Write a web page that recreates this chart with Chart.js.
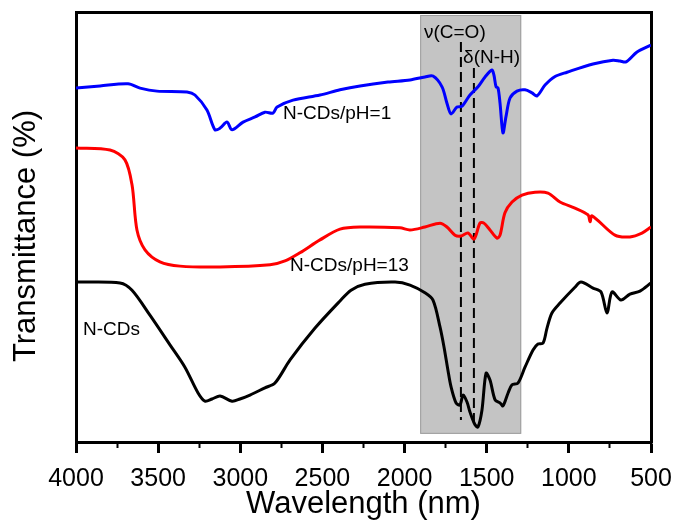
<!DOCTYPE html>
<html><head><meta charset="utf-8">
<script src="https://cdn.jsdelivr.net/npm/chart.js@4"></script>
<style>html,body{margin:0;padding:0;background:#fff}</style>
</head><body>
<canvas id="c" width="678" height="522" style="display:block;width:678px;height:522px"></canvas>
<script>
// ---- data ----
const blueX = [4000,3854,3683,3610,3507,3324,3276,3203,3154,3123,3081,3050,2983,2910,2850,2801,2776,2679,2515,2393,2271,2101,1967,1876,1827,1772,1742,1717,1681,1650,1602,1553,1510,1468,1456,1443,1431,1419,1401,1383,1358,1316,1267,1224,1194,1145,1084,1011,853,731,689,652,585,500];
const blueY = [82.3,82.8,83.3,82.3,81.6,81.4,80.7,77.2,72.6,73.0,74.4,72.6,74.4,75.6,76.7,76.5,77.9,79.5,80.7,81.9,82.8,83.7,84.2,84.9,85.1,82.6,78.8,76.3,77.9,78.1,80.7,82.6,84.9,86.5,85.3,82.6,82.3,78.8,71.9,75.6,80.0,81.6,81.9,81.2,80.5,83.0,85.0,86.0,87.9,88.8,88.6,88.4,90.7,92.3];
const redX = [4000,3793,3702,3659,3629,3580,3489,3367,3123,2819,2728,2637,2515,2393,2271,2028,1967,1876,1784,1742,1693,1657,1614,1577,1541,1517,1480,1437,1419,1389,1346,1285,1206,1127,1054,963,883,871,859,719,628,555,500];
const redY = [68.4,67.9,65.6,59.8,49.3,44.7,41.9,40.9,40.7,41.2,42.1,44.0,47.0,49.5,50.0,49.8,49.3,50.0,50.9,50.0,48.1,47.9,48.6,47.2,50.9,50.9,49.3,47.4,48.1,53.3,55.8,57.4,58.1,57.9,55.8,54.4,52.8,51.2,52.6,48.1,47.7,48.6,50.0];
const blackX = [4000,3732,3659,3550,3428,3337,3257,3215,3172,3123,3050,3002,2941,2850,2789,2697,2545,2393,2326,2241,2058,1967,1876,1827,1784,1760,1736,1717,1687,1663,1644,1620,1602,1571,1553,1529,1504,1480,1449,1419,1401,1370,1346,1310,1267,1218,1188,1157,1133,1103,1054,963,926,853,804,768,737,683,628,567,500];
const blackY = [37.2,37.0,35.3,29.5,22.6,17.4,11.4,9.5,10.0,10.7,9.5,10.0,10.9,12.6,13.7,19.1,26.5,32.8,35.3,36.7,37.2,36.5,34.7,33.0,26.7,22.1,16.7,12.8,9.1,8.6,10.9,9.3,7.0,4.0,3.5,7.4,16.0,14.4,9.8,9.1,8.4,11.4,13.3,13.7,17.4,21.4,22.8,23.0,26.5,30.0,32.3,36.0,37.2,35.8,34.9,30.0,34.9,33.0,34.4,35.1,37.0];

const xMin = 500, xMax = 4000, majorStep = 500, minorStep = 250;
const yMin = 0, yMax = 100;

// shaded band (wavenumber range) and its vertical extent
const bandX = [1905, 1290];
const bandY = [1.9, 99.3];
// dashed marker lines
const dashX = [1657, 1578];
const dashTop = [93.0, 87.0];
const dashBottom = [5.1, 4.0];

// text annotations
const noteText = ['N-CDs/pH=1', 'N-CDs/pH=13', 'N-CDs', 'ν(C=O)', 'δ(N-H)'];
const noteX = [2740, 2697, 3957, 1882, 1644];
const noteY = [76.3, 40.9, 26.0, 95.1, 89.3];

const xTitle = 'Wavelength (nm)';
const yTitle = 'Transmittance (%)';

const pts = (xs, ys) => xs.map((x, i) => ({x, y: ys[i]}));

Chart.defaults.font.family = '"Liberation Sans", Arial, Helvetica, sans-serif';
Chart.defaults.color = '#000';

const bandPlugin = {
  id: 'band',
  beforeDatasetsDraw(chart) {
    const {ctx, scales: {x, y}} = chart;
    const x1 = x.getPixelForValue(bandX[0]), x2 = x.getPixelForValue(bandX[1]);
    const y1 = y.getPixelForValue(bandY[1]), y2 = y.getPixelForValue(bandY[0]);
    ctx.save();
    ctx.fillStyle = '#c4c4c4';
    ctx.fillRect(x1, y1, x2 - x1, y2 - y1);
    ctx.strokeStyle = '#9c9c9c';
    ctx.lineWidth = 1;
    ctx.strokeRect(x1 + 0.5, y1 + 0.5, x2 - x1 - 1, y2 - y1 - 1);
    ctx.restore();
  }
};
const notePlugin = {
  id: 'notes',
  afterDatasetsDraw(chart) {
    const {ctx, scales: {x, y}, chartArea} = chart;
    ctx.save();
    ctx.font = '19px "Liberation Sans", Arial, sans-serif';
    ctx.fillStyle = '#000';
    ctx.textAlign = 'left';
    ctx.textBaseline = 'middle';
    noteText.forEach((t, i) => ctx.fillText(t, x.getPixelForValue(noteX[i]), y.getPixelForValue(noteY[i])));
    // y-axis title, placed just left of the axis
    ctx.font = '31px "Liberation Sans", Arial, sans-serif';
    ctx.textAlign = 'center';
    ctx.textBaseline = 'middle';
    ctx.translate(chartArea.left - 50, (chartArea.top + chartArea.bottom) / 2 + 9);
    ctx.rotate(-Math.PI / 2);
    ctx.fillText(yTitle, 0, 0);
    ctx.restore();
  }
};

const lineDs = (data, color) => ({
  data, borderColor: color, borderWidth: 3, pointRadius: 0,
  tension: 0.3, fill: false
});
const dashDs = (i) => ({
  data: [{x: dashX[i], y: dashTop[i]}, {x: dashX[i], y: dashBottom[i]}],
  borderColor: '#000', borderWidth: 2, borderDash: [10, 5], pointRadius: 0, tension: 0, fill: false
});

new Chart(document.getElementById('c'), {
  type: 'line',
  data: {
    datasets: [
      lineDs(pts(blueX, blueY), '#0000ff'),
      lineDs(pts(redX, redY), '#ff0000'),
      lineDs(pts(blackX, blackY), '#000000'),
      dashDs(0), dashDs(1)
    ]
  },
  options: {
    responsive: false, animation: false, devicePixelRatio: 1,
    layout: {padding: {top: 12, right: 27, left: 0, bottom: 0}},
    plugins: {legend: {display: false}, tooltip: {enabled: false}},
    scales: {
      x: {
        type: 'linear', position: 'bottom', reverse: true, min: xMin, max: xMax, weight: 1,
        ticks: {stepSize: majorStep, font: {size: 25}, color: '#000', padding: 11, maxRotation: 0, autoSkip: false,
                callback: v => String(v)},
        grid: {drawOnChartArea: false, drawTicks: true, tickLength: 11, tickWidth: 3, tickColor: '#000'},
        border: {display: true, color: '#000', width: 3},
        title: {display: true, text: xTitle, font: {size: 31, lineHeight: 1}, color: '#000', padding: {top: 0, bottom: 2}},
        afterFit: s => { s.height = 80; s.paddingLeft = 0; s.paddingRight = 0; }
      },
      xMinor: {
        type: 'linear', position: 'bottom', reverse: true, min: xMin, max: xMax, weight: 0,
        ticks: {display: false, stepSize: minorStep, autoSkip: false},
        grid: {drawOnChartArea: false, drawTicks: true, tickLength: 6, tickWidth: 2, tickColor: '#000'},
        border: {display: false},
        afterFit: s => { s.height = 0; s.paddingLeft = 0; s.paddingRight = 0; }
      },
      xTop: {
        type: 'linear', position: 'top', min: xMin, max: xMax,
        ticks: {display: false}, grid: {display: false},
        border: {display: true, color: '#000', width: 3},
        afterFit: s => { s.height = 0; s.paddingLeft = 0; s.paddingRight = 0; }
      },
      y: {
        type: 'linear', position: 'left', min: yMin, max: yMax,
        ticks: {display: false}, grid: {display: false},
        border: {display: true, color: '#000', width: 3},
        afterFit: s => { s.width = 76; }
      },
      yRight: {
        type: 'linear', position: 'right', min: yMin, max: yMax,
        ticks: {display: false}, grid: {display: false},
        border: {display: true, color: '#000', width: 3},
        afterFit: s => { s.width = 0; }
      }
    }
  },
  plugins: [bandPlugin, notePlugin]
});
</script>
</body></html>
